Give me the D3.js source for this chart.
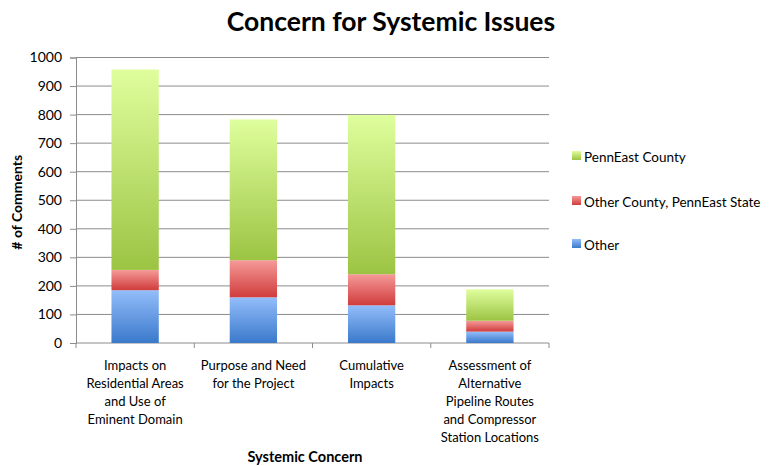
<!DOCTYPE html>
<html>
<head>
<meta charset="utf-8">
<script src="https://cdn.jsdelivr.net/npm/d3@7"></script>
<style>
  body { margin: 0; background: #fff; }
  text { font-family: Lato, "Open Sans", sans-serif; fill: #000; }
</style>
</head>
<body>
<svg id="chart" width="774" height="466"></svg>
<script>
"use strict";

var categories = [
  ["Impacts on", "Residential Areas", "and Use of", "Eminent Domain"],
  ["Purpose and Need", "for the Project"],
  ["Cumulative", "Impacts"],
  ["Assessment of", "Alternative", "Pipeline Routes", "and Compressor", "Station Locations"]
];
var seriesNames = ["Other", "Other County, PennEast State", "PennEast County"];
var otherValues = [185, 160, 132, 40];
var otherCountyValues = [71, 130, 109, 38];
var pennEastValues = [702, 493, 558, 110];
var yTicks = [0, 100, 200, 300, 400, 500, 600, 700, 800, 900, 1000];

var gradients = [
  { id: "gBlue", top: "#93bdfa", bottom: "#3a79cb" },
  { id: "gRed", top: "#f59a98", bottom: "#d03c3c" },
  { id: "gGreen", top: "#dffe9d", bottom: "#9cc443" }
];

var svg = d3.select("#chart");
var plotLeft = 76, plotRight = 549, plotTop = 57.5, plotBottom = 343;

var defs = svg.append("defs");
gradients.forEach(function (g) {
  var lgr = defs.append("linearGradient").attr("id", g.id)
    .attr("x1", 0).attr("y1", 0).attr("x2", 0).attr("y2", 1);
  lgr.append("stop").attr("offset", "0%").attr("stop-color", g.top);
  lgr.append("stop").attr("offset", "100%").attr("stop-color", g.bottom);
});

var x = d3.scaleBand().domain(d3.range(categories.length)).range([plotLeft, plotRight]).paddingInner(0.6).paddingOuter(0.3);
var xOuter = d3.scaleBand().domain(d3.range(categories.length)).range([plotLeft, plotRight]);
var y = d3.scaleLinear().domain([0, 1000]).range([plotBottom, plotTop]);

// gridlines
svg.append("g").selectAll("line").data(yTicks.slice(1)).join("line")
  .attr("x1", plotLeft).attr("x2", plotRight)
  .attr("y1", function (d) { return y(d); }).attr("y2", function (d) { return y(d); })
  .attr("stroke", "#8c8c8c").attr("stroke-width", 1);

// y axis
var yAxis = svg.append("g").attr("transform", "translate(" + plotLeft + ",0)")
  .call(d3.axisLeft(y).tickValues(yTicks).tickFormat(d3.format("d")).tickSize(6).tickPadding(8));
yAxis.select(".domain").attr("stroke", "#8c8c8c");
yAxis.selectAll(".tick line").attr("stroke", "#8c8c8c");
yAxis.selectAll(".tick text").attr("font-size", "14px").attr("font-family", "Lato, 'Open Sans', sans-serif");

// x axis baseline and ticks
svg.append("line").attr("x1", plotLeft).attr("x2", plotRight).attr("y1", plotBottom).attr("y2", plotBottom)
  .attr("stroke", "#8c8c8c");
svg.append("g").selectAll("line").data(d3.range(categories.length + 1)).join("line")
  .attr("x1", function (i) { return plotLeft + i * xOuter.bandwidth(); })
  .attr("x2", function (i) { return plotLeft + i * xOuter.bandwidth(); })
  .attr("y1", plotBottom).attr("y2", plotBottom + 5)
  .attr("stroke", "#8c8c8c");

// stacked bars
var rows = categories.map(function (c, i) {
  return { i: i, other: otherValues[i], oc: otherCountyValues[i], pe: pennEastValues[i] };
});
var stack = d3.stack().keys(["other", "oc", "pe"]);
var layers = stack(rows);

svg.append("g").selectAll("g").data(layers).join("g")
  .attr("fill", function (d, k) { return "url(#" + gradients[k].id + ")"; })
  .selectAll("rect").data(function (d) { return d; }).join("rect")
  .attr("x", function (d) { return x(d.data.i); })
  .attr("width", x.bandwidth())
  .attr("y", function (d) { return y(d[1]); })
  .attr("height", function (d) { return y(d[0]) - y(d[1]); });

// category labels
svg.append("g").selectAll("text").data(categories).join("text")
  .attr("text-anchor", "middle")
  .attr("font-size", "13px")
  .attr("x", function (d, i) { return xOuter(i) + xOuter.bandwidth() / 2; })
  .attr("y", 370)
  .selectAll("tspan").data(function (d) { return d; }).join("tspan")
  .attr("x", function () { return this.parentNode.getAttribute("x"); })
  .attr("dy", function (d, j) { return j === 0 ? 0 : 18; })
  .text(function (d) { return d; });

// title
svg.append("text").attr("x", 391).attr("y", 31).attr("text-anchor", "middle")
  .attr("font-size", "26.5px").attr("font-weight", "bold").text("Concern for Systemic Issues");

// axis titles
svg.append("text").attr("transform", "translate(22," + ((plotTop + plotBottom) / 2 + 2) + ") rotate(-90)")
  .attr("text-anchor", "middle").attr("font-size", "14px").attr("font-weight", "bold")
  .text("# of Comments");
svg.append("text").attr("x", 305).attr("y", 462).attr("text-anchor", "middle")
  .attr("font-size", "14.5px").attr("font-weight", "bold").text("Systemic Concern");

// legend
var legendItems = [
  { name: seriesNames[2], k: 2, y: 157 },
  { name: seriesNames[1], k: 1, y: 202 },
  { name: seriesNames[0], k: 0, y: 245 }
];
var lg = svg.append("g").selectAll("g").data(legendItems).join("g")
  .attr("transform", function (d) { return "translate(572," + d.y + ")"; });
lg.append("rect").attr("x", 0).attr("y", -6).attr("width", 9).attr("height", 9)
  .attr("fill", function (d) { return "url(#" + gradients[d.k].id + ")"; });
lg.append("text").attr("x", 12).attr("y", 5).attr("font-size", "13.5px")
  .text(function (d) { return d.name; });
</script>
</body>
</html>
